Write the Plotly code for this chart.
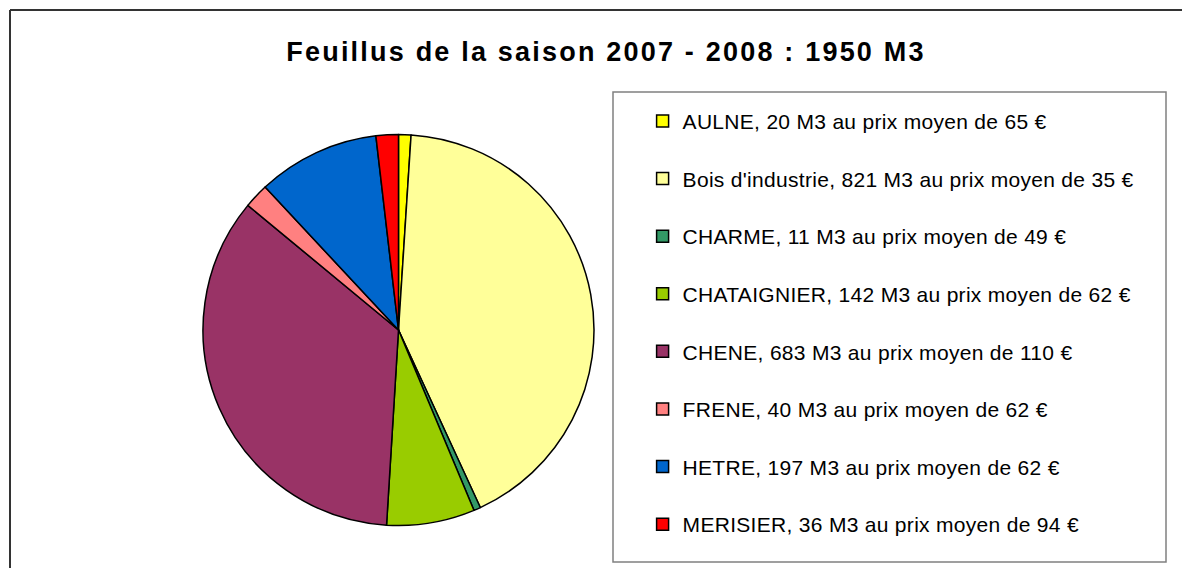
import plotly.graph_objects as go

W, H = 1182, 568
OFF = 0  # page offset of the figure (body margin removed below)

species = ["AULNE", "Bois d'industrie", "CHARME", "CHATAIGNIER", "CHENE", "FRENE", "HETRE", "MERISIER"]
volumes = [20, 821, 11, 142, 683, 40, 197, 36]
prices = [65, 35, 49, 62, 110, 62, 62, 94]
colors = ["#FFFF00", "#FFFF99", "#339966", "#99CC00", "#993366", "#FF8080", "#0066CC", "#FF0000"]
title_text = "Feuillus de la saison 2007 - 2008 : 1950 M3"

n = len(species)
labels = [
    f"<span style='letter-spacing:0.3px'>{s}, {v} M3 au prix moyen de {p} €</span>"
    + ("<br> " if i < n - 1 else "")
    for i, (s, v, p) in enumerate(zip(species, volumes, prices))
]


def px_x(x):
    return (x - OFF) / W


def px_y(y):
    return 1 - (y - OFF) / H


cx, cy, r = 398.5, 330, 195.5

fig = go.Figure(
    go.Pie(
        labels=labels,
        values=volumes,
        sort=False,
        direction="clockwise",
        rotation=0,
        textinfo="none",
        hoverinfo="label+value+percent",
        marker=dict(colors=colors, line=dict(color="#000000", width=1.5)),
        domain=dict(x=[px_x(cx - r), px_x(cx + r)], y=[px_y(cy + r), px_y(cy - r)]),
    )
)

fig.update_layout(
    width=W,
    height=H,
    margin=dict(l=0, r=0, t=0, b=0, autoexpand=False),
    paper_bgcolor="white",
    plot_bgcolor="white",
    font=dict(family="Liberation Sans, Arial, sans-serif", color="#000000"),
    title=dict(
        text=f"<span style='letter-spacing:2.2px'><b>{title_text}</b></span>",
        font=dict(family="Liberation Sans, Arial, sans-serif", size=27, color="#000000"),
        xref="container", yref="container",
        x=px_x(606), y=px_y(52), xanchor="center", yanchor="middle",
    ),
    legend=dict(
        xref="paper", yref="paper",
        x=px_x(642.6), y=px_y(100.8), xanchor="left", yanchor="top",
        font=dict(family="Liberation Sans, Arial, sans-serif", size=21, color="#000000"),
        bgcolor="rgba(0,0,0,0)", borderwidth=0,
        valign="top",
        traceorder="normal",
    ),
    showlegend=True,
    shapes=[
        dict(type="rect", xref="paper", yref="paper",
             x0=px_x(613), x1=px_x(1166), y0=px_y(562), y1=px_y(92),
             line=dict(color="#808080", width=1.5), fillcolor="white", layer="below"),
        dict(type="line", xref="paper", yref="paper",
             x0=px_x(10), x1=px_x(1220), y0=px_y(10), y1=px_y(10),
             line=dict(color="#333333", width=2), layer="below"),
        dict(type="line", xref="paper", yref="paper",
             x0=px_x(10), x1=px_x(10), y0=px_y(10), y1=px_y(600),
             line=dict(color="#333333", width=2), layer="below"),
    ],
)

fig.write_html(
    "out.html",
    config={"displayModeBar": False},
    post_script="document.body.style.margin='0';document.body.style.overflow='hidden';",
)
